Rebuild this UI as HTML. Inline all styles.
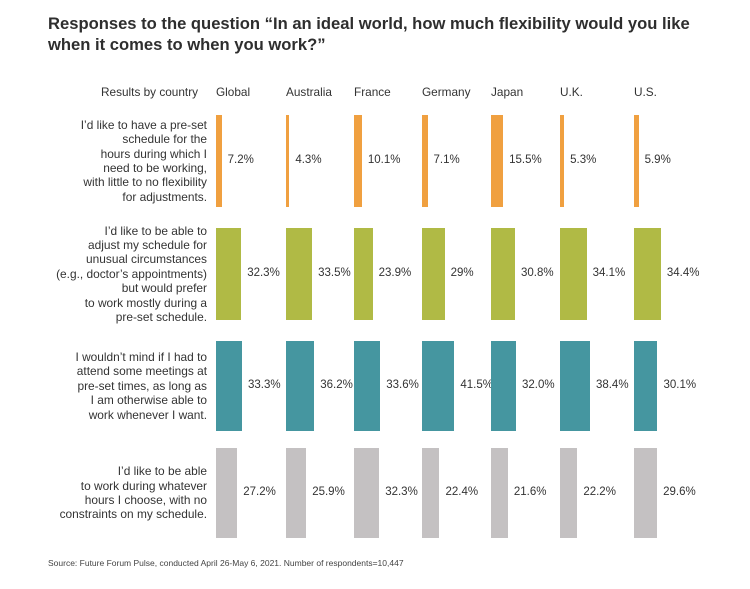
<!DOCTYPE html>
<html><head><meta charset="utf-8"><style>
body{margin:0;background:#fff;font-family:"Liberation Sans",sans-serif;color:#333}
#c{position:relative;width:750px;height:589px;overflow:hidden}
.t{position:absolute;left:48px;top:13px;font-size:16.6px;font-weight:bold;line-height:21px;color:#2e2e2e;white-space:nowrap}
.h{position:absolute;top:85px;font-size:11.8px;color:#333}
.rl{position:absolute;right:543px;width:220px;text-align:right;font-size:11.9px;line-height:14.4px;color:#333}
.bar{position:absolute}
.v{position:absolute;font-size:11.5px;color:#333}
.src{position:absolute;left:48px;top:558px;font-size:8.5px;color:#444}
</style></head><body><div id="c">
<div class="t">Responses to the question “In an ideal world, how much flexibility would you like<br>when it comes to when you work?”</div>
<div class="h" style="left:101px">Results by country</div>
<div class="src">Source: Future Forum Pulse, conducted April 26-May 6, 2021. Number of respondents=10,447</div>
</div>
<script>
const countries=["Global","Australia","France","Germany","Japan","U.K.","U.S."];
const preset=[7.2,4.3,10.1,7.1,15.5,5.3,5.9];
const adjust=[32.3,33.5,23.9,29,30.8,34.1,34.4];
const meetings=[33.3,36.2,33.6,41.5,32.0,38.4,30.1];
const anyHours=[27.2,25.9,32.3,22.4,21.6,22.2,29.6];
const valueLabels=[
["7.2%","4.3%","10.1%","7.1%","15.5%","5.3%","5.9%"],
["32.3%","33.5%","23.9%","29%","30.8%","34.1%","34.4%"],
["33.3%","36.2%","33.6%","41.5%","32.0%","38.4%","30.1%"],
["27.2%","25.9%","32.3%","22.4%","21.6%","22.2%","29.6%"]];
const rowLabels=[
"I’d like to have a pre-set<br>schedule for the<br>hours during which I<br>need to be working,<br>with little to no flexibility<br>for adjustments.",
"I’d like to be able to<br>adjust my schedule for<br>unusual circumstances<br>(e.g., doctor’s appointments)<br>but would prefer<br>to work mostly during a<br>pre-set schedule.",
"I wouldn’t mind if I had to<br>attend some meetings at<br>pre-set times, as long as<br>I am otherwise able to<br>work whenever I want.",
"I’d like to be able<br>to work during whatever<br>hours I choose, with no<br>constraints on my schedule."];
const series=[preset,adjust,meetings,anyHours];
const colors=["#f0a040","#b0ba45","#4596a0","#c4c1c2"];
const colX=[216,286,354,422,491,560,634];
const rowTop=[115,228,341,448], rowH=[92,92,90,90];
const scale=0.78;
const c=document.getElementById('c');
countries.forEach((n,i)=>{const d=document.createElement('div');d.className='h';d.style.left=colX[i]+'px';d.textContent=n;

c.appendChild(d);});
series.forEach((s,r)=>{
 const l=document.createElement('div');l.className='rl';l.innerHTML=rowLabels[r];
 const lines=rowLabels[r].split('<br>').length;
 l.style.top=(rowTop[r]+rowH[r]/2-lines*7.2)+'px';
 
 c.appendChild(l);
 s.forEach((v,i)=>{
  const w=Math.max(3,v*scale);
  const b=document.createElement('div');b.className='bar';
  b.style.cssText=`left:${colX[i]}px;top:${rowTop[r]}px;width:${w}px;height:${rowH[r]}px;background:${colors[r]}`;
  
  c.appendChild(b);
  const t=document.createElement('div');t.className='v';t.textContent=valueLabels[r][i];
  t.style.left=(colX[i]+w+6)+'px';t.style.top=(rowTop[r]+rowH[r]/2-7)+'px';
  
  c.appendChild(t);
 });
});
</script></body></html>
